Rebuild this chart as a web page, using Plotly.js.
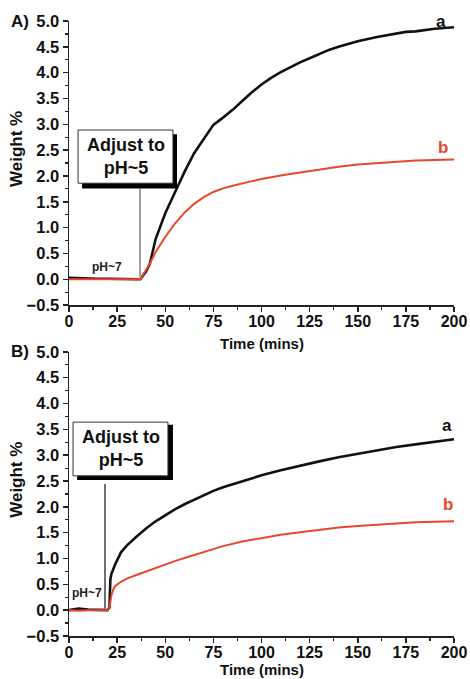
<!DOCTYPE html>
<html>
<head>
<meta charset="utf-8">
<script src="https://cdn.plot.ly/plotly-3.0.1.min.js"></script>
<style>html,body{margin:0;padding:0;background:#fff;}#chart{width:470px;height:679px;}</style>
</head>
<body>
<div id="chart"></div>
<script>
// Panel A data
const timeA = [0,5,10,15,20,25,30,35,37,40,42,45,50,55,60,65,70,75,80,85,90,95,100,105,110,115,120,125,130,135,140,150,160,170,175,180,190,200];
const weightA_a = [0.03,0.02,0.01,0.01,0.01,0.01,0.01,0.01,0.0,0.15,0.30,0.78,1.28,1.68,2.08,2.44,2.72,2.99,3.13,3.28,3.45,3.62,3.77,3.90,4.01,4.11,4.20,4.28,4.36,4.44,4.50,4.61,4.69,4.75,4.79,4.80,4.85,4.88];
const weightA_b = [0.0,0.0,0.0,0.0,0.0,0.0,0.0,0.0,0.0,0.18,0.30,0.53,0.82,1.08,1.29,1.46,1.59,1.69,1.76,1.81,1.86,1.90,1.94,1.98,2.01,2.04,2.07,2.10,2.13,2.16,2.18,2.22,2.25,2.28,2.29,2.30,2.31,2.32];
// Panel B data
const timeB = [0,5,10,15,20,21,21.5,22,23,24,27,30,35,40,45,50,55,60,65,70,75,80,90,100,110,120,130,140,150,160,170,180,190,200];
const weightB_a = [0.0,0.03,0.01,0.0,0.0,0.05,0.60,0.70,0.80,0.89,1.12,1.25,1.42,1.58,1.72,1.84,1.95,2.05,2.14,2.23,2.31,2.38,2.50,2.61,2.71,2.80,2.88,2.96,3.03,3.10,3.16,3.21,3.26,3.31];
const weightB_b = [0.0,-0.01,0.0,0.0,0.0,0.05,0.18,0.28,0.40,0.47,0.55,0.61,0.68,0.75,0.82,0.89,0.95,1.01,1.07,1.13,1.18,1.24,1.33,1.40,1.46,1.51,1.56,1.60,1.63,1.66,1.68,1.70,1.71,1.72];

const xTickVals = [0,25,50,75,100,125,150,175,200];
const yTickVals = [-0.5,0,0.5,1,1.5,2,2.5,3,3.5,4,4.5,5];
const xTitle = 'Time (mins)';
const yTitle = 'Weight %';

const FONT = 'Liberation Sans, Arial, sans-serif';
const BLACK = '#111111';
const RED = '#e8472b';

const traces = [
  {x: timeA, y: weightA_a, xaxis:'x', yaxis:'y', mode:'lines', line:{color:BLACK, width:2.6}, hoverinfo:'skip'},
  {x: timeA, y: weightA_b, xaxis:'x', yaxis:'y', mode:'lines', line:{color:RED, width:2}, hoverinfo:'skip'},
  {x: timeB, y: weightB_a, xaxis:'x2', yaxis:'y2', mode:'lines', line:{color:BLACK, width:2.6}, hoverinfo:'skip'},
  {x: timeB, y: weightB_b, xaxis:'x2', yaxis:'y2', mode:'lines', line:{color:RED, width:2}, hoverinfo:'skip'}
];

function xAxis(anchor){
  return {
    anchor: anchor, range:[0,200], showgrid:false, zeroline:false,
    showline:true, linecolor:'#222', linewidth:1.5,
    ticks:'outside', ticklen:5, tickwidth:1.5, tickcolor:'#222',
    tickvals: xTickVals, ticklabelstandoff:-4,
    minor:{ticks:'outside', ticklen:3, tickwidth:1.2, tickcolor:'#222', dtick:12.5, tick0:0, showgrid:false},
    tickfont:{family:FONT, size:16, color:'#111', weight:'bold'},
    fixedrange:true
  };
}
function yAxis(anchor, domain){
  return {
    anchor: anchor, domain: domain, range:[-0.5,5.0], showgrid:false, zeroline:false,
    showline:true, linecolor:'#222', linewidth:1.5,
    ticks:'outside', ticklen:5, tickwidth:1.5, tickcolor:'#222',
    tickvals: yTickVals, tickformat:'.1f',
    minor:{ticks:'outside', ticklen:3, tickwidth:1.2, tickcolor:'#222', dtick:0.25, tick0:0, showgrid:false},
    tickfont:{family:FONT, size:16.5, color:'#111', weight:'bold'},
    fixedrange:true
  };
}

const boxFont = {family:FONT, size:18, color:'#111', weight:'bold'};
const smallFont = {family:FONT, size:12, color:'#222', weight:'bold'};
const labFont = {family:FONT, size:17, color:'#111', weight:'bold'};
const titleFont = {family:FONT, size:15, color:'#111', weight:'bold'};

const layout = {
  width:470, height:679,
  margin:{l:69, r:16, t:21, b:43},
  paper_bgcolor:'#fff', plot_bgcolor:'#fff',
  showlegend:false,
  xaxis: xAxis('y'),
  yaxis: yAxis('x', [0.538, 1]),
  xaxis2: xAxis('y2'),
  yaxis2: yAxis('x2', [0, 0.462]),
  shapes:[
    // panel A box shadow + box + pointer
    {type:'rect', xref:'x', yref:'y', x0:6.8, x1:56.1, y0:1.76, y1:2.81, fillcolor:'#000', line:{width:0}, layer:'above'},
    {type:'rect', xref:'x', yref:'y', x0:4.7, x1:54.0, y0:1.86, y1:2.89, fillcolor:'#fff', line:{color:'#333', width:1}, layer:'above'},
    {type:'line', xref:'x', yref:'y', x0:36.9, x1:36.9, y0:1.76, y1:0.05, line:{color:'#444', width:1}, layer:'above'},
    // panel B box shadow + box + pointer
    {type:'rect', xref:'x2', yref:'y2', x0:4.2, x1:54.0, y0:2.52, y1:3.59, fillcolor:'#000', line:{width:0}, layer:'above'},
    {type:'rect', xref:'x2', yref:'y2', x0:2.1, x1:51.4, y0:2.60, y1:3.64, fillcolor:'#fff', line:{color:'#333', width:1}, layer:'above'},
    {type:'line', xref:'x2', yref:'y2', x0:18.7, x1:18.7, y0:2.44, y1:0.03, line:{color:'#222', width:1.3}, layer:'above'}
  ],
  annotations:[
    {xref:'x', yref:'y', x:29.4, y:2.37, text:'Adjust to<br>pH~5', showarrow:false, font:boxFont, align:'center'},
    {xref:'x2', yref:'y2', x:26.8, y:3.12, text:'Adjust to<br>pH~5', showarrow:false, font:boxFont, align:'center'},
    {xref:'x', yref:'y', x:19.8, y:0.23, text:'pH~7', showarrow:false, font:smallFont},
    {xref:'x2', yref:'y2', x:9.6, y:0.33, text:'pH~7', showarrow:false, font:smallFont},
    {xref:'x', yref:'y', x:193.5, y:5.0, text:'a', showarrow:false, font:labFont},
    {xref:'x', yref:'y', x:194.5, y:2.56, text:'b', showarrow:false, font:{family:FONT, size:17, color:RED, weight:'bold'}},
    {xref:'x2', yref:'y2', x:196.5, y:3.57, text:'a', showarrow:false, font:labFont},
    {xref:'x2', yref:'y2', x:197, y:2.04, text:'b', showarrow:false, font:{family:FONT, size:17, color:RED, weight:'bold'}},
    {xref:'paper', yref:'paper', x:0.5, y:0.4764, xanchor:'center', yanchor:'middle', text:xTitle, showarrow:false, font:titleFont},
    {xref:'paper', yref:'paper', x:0.5, y:-0.0537, xanchor:'center', yanchor:'middle', text:xTitle, showarrow:false, font:titleFont},
    {xref:'paper', yref:'paper', x:-0.135, y:0.792, xanchor:'center', yanchor:'middle', text:yTitle, textangle:-90, showarrow:false, font:{family:FONT, size:17, color:'#111', weight:'bold'}},
    {xref:'paper', yref:'paper', x:-0.135, y:0.254, xanchor:'center', yanchor:'middle', text:yTitle, textangle:-90, showarrow:false, font:{family:FONT, size:17, color:'#111', weight:'bold'}},
    {xref:'paper', yref:'paper', x:-0.128, y:1.0, text:'A)', showarrow:false, font:labFont, xanchor:'center', yanchor:'middle'},
    {xref:'paper', yref:'paper', x:-0.128, y:0.462, text:'B)', showarrow:false, font:labFont, xanchor:'center', yanchor:'middle'}
  ]
};

Plotly.newPlot('chart', traces, layout, {staticPlot:true, displayModeBar:false});
</script>
</body>
</html>
